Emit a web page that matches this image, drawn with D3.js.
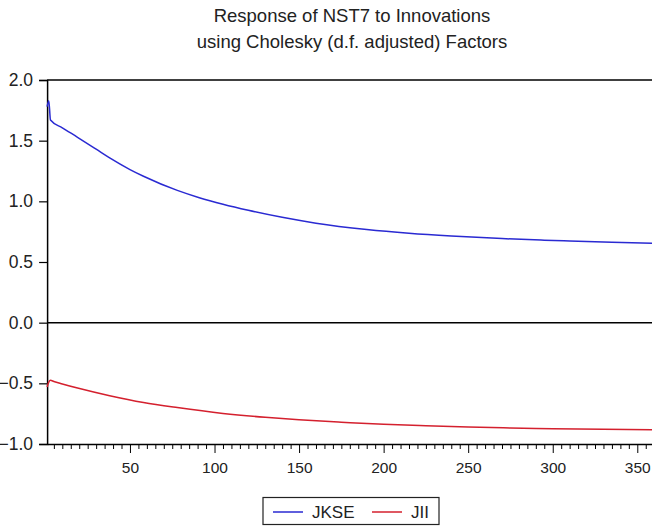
<!DOCTYPE html>
<html>
<head>
<meta charset="utf-8">
<script src="https://cdn.jsdelivr.net/npm/d3@7"></script>
<style>
  body { margin: 0; background: #fff; }
  svg { display: block; font-family: "Liberation Sans", Arial, sans-serif; }
</style>
</head>
<body>
<script>
const jkseX = [1, 2, 3, 10, 19, 30, 38, 50, 58, 78, 91, 105, 120, 140, 160, 190, 215, 240, 270, 295, 310, 335, 360];
const jkseY = [1.78, 1.83, 1.67, 1.606, 1.528, 1.43, 1.358, 1.262, 1.207, 1.09, 1.03, 0.976, 0.926, 0.868, 0.82, 0.768, 0.737, 0.714, 0.693, 0.68, 0.673, 0.663, 0.655];

const jiiX = [1, 2, 3, 5, 10, 19, 38, 58, 78, 105, 130, 150, 175, 200, 225, 250, 275, 300, 330, 360];
const jiiY = [-0.53, -0.49, -0.475, -0.485, -0.505, -0.539, -0.602, -0.658, -0.70, -0.748, -0.78, -0.80, -0.82, -0.838, -0.85, -0.86, -0.868, -0.874, -0.879, -0.882];

const yTicks = [2.0, 1.5, 1.0, 0.5, 0.0, -0.5, -1.0];
const xTicks = [50, 100, 150, 200, 250, 300, 350];
const titleLines = ['Response of NST7 to Innovations', 'using Cholesky (d.f. adjusted) Factors'];
const seriesNames = ['JKSE', 'JII'];
const seriesColors = ['#2a2ad2', '#d4202e'];

const width = 652;
const height = 527;

const svg = d3.select('body')
  .append('svg')
  .attr('width', width)
  .attr('height', height);

// Scales
const x = d3.scaleLinear().domain([1, 360]).range([47.1, 654.2]);
const y = d3.scaleLinear().domain([-1, 2]).range([444, 80]);

// Title
svg.selectAll('.title')
  .data(titleLines)
  .enter()
  .append('text')
  .attr('class', 'title')
  .attr('x', 352)
  .attr('y', (d, i) => 22 + i * 26)
  .attr('text-anchor', 'middle')
  .style('font-size', '18.5px')
  .style('fill', '#222')
  .text((d) => d);

// Top frame line
svg.append('line')
  .attr('x1', x(1)).attr('x2', width)
  .attr('y1', y(2)).attr('y2', y(2))
  .style('stroke', '#000').style('stroke-width', 1.5);

// Zero line
svg.append('line')
  .attr('x1', x(1)).attr('x2', width)
  .attr('y1', y(0)).attr('y2', y(0))
  .style('stroke', '#000').style('stroke-width', 1.5);

// Y axis
const yAxis = svg.append('g')
  .attr('transform', `translate(${x(1)},0)`)
  .call(d3.axisLeft(y).tickValues(yTicks).tickFormat(d3.format('.1f')).tickSize(8).tickPadding(6));
yAxis.select('.domain').style('stroke-width', 1.5);
yAxis.selectAll('.tick line').style('stroke-width', 1.2);
yAxis.selectAll('text').style('font-size', '17.5px').style('fill', '#222').style('font-family', '"Liberation Sans", Arial, sans-serif');

// X axis: minor ticks every 5, major every 50
const minor = d3.range(5, 361, 5).filter((v) => v % 50 !== 0);
const xMinor = svg.append('g')
  .attr('transform', `translate(0,${y(-1)})`)
  .call(d3.axisBottom(x).tickValues(minor).tickFormat('').tickSize(5));
xMinor.select('.domain').remove();

const xAxis = svg.append('g')
  .attr('transform', `translate(0,${y(-1)})`)
  .call(d3.axisBottom(x).tickValues(xTicks).tickSize(9).tickPadding(9).tickSizeOuter(0));
xAxis.select('.domain').style('stroke-width', 1.5);
xAxis.selectAll('text').style('font-size', '15.5px').style('fill', '#222').style('font-family', '"Liberation Sans", Arial, sans-serif');

// Lines
const line = d3.line()
  .x((d) => x(d[0]))
  .y((d) => y(d[1]))
  .curve(d3.curveMonotoneX);

const series = [
  d3.zip(jkseX, jkseY),
  d3.zip(jiiX, jiiY)
];

svg.selectAll('.series')
  .data(series)
  .enter()
  .append('path')
  .attr('class', 'series')
  .attr('d', line)
  .style('fill', 'none')
  .style('stroke', (d, i) => seriesColors[i])
  .style('stroke-width', 1.5);

// Legend
const legend = svg.append('g');
legend.append('rect')
  .attr('x', 263).attr('y', 497.5)
  .attr('width', 176).attr('height', 27)
  .style('fill', '#fff').style('stroke', '#222').style('stroke-width', 1.2);

const items = legend.selectAll('.item')
  .data(seriesNames)
  .enter()
  .append('g')
  .attr('class', 'item')
  .attr('transform', (d, i) => `translate(${273 + i * 99},512)`);

items.append('line')
  .attr('x1', 0).attr('x2', 30)
  .style('stroke', (d, i) => seriesColors[i])
  .style('stroke-width', 1.5);

items.append('text')
  .attr('x', 39)
  .attr('y', 6)
  .style('font-size', '17px')
  .style('fill', '#222')
  .text((d) => d);
</script>
</body>
</html>
